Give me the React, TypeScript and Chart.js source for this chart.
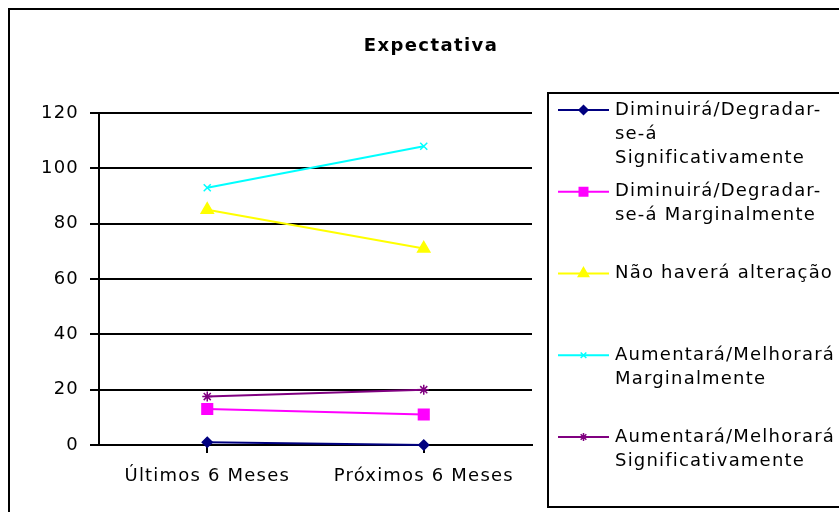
import React, { useEffect, useRef } from 'react';
import { Chart, registerables } from 'chart.js';
import { drawPoint } from 'chart.js/helpers';

Chart.register(...registerables);

const chartTitle = 'Expectativa';
const categories = ['Últimos 6 Meses', 'Próximos 6 Meses'];
const seriesNames = [
  'Diminuirá/Degradar-se-á Significativamente',
  'Diminuirá/Degradar-se-á Marginalmente',
  'Não haverá alteração',
  'Aumentará/Melhorará Marginalmente',
  'Aumentará/Melhorará Significativamente',
];
const legendLines = [
  ['Diminuirá/Degradar-', 'se-á', 'Significativamente'],
  ['Diminuirá/Degradar-', 'se-á Marginalmente'],
  ['Não haverá alteração'],
  ['Aumentará/Melhorará', 'Marginalmente'],
  ['Aumentará/Melhorará', 'Significativamente'],
];
const diminuiraSignificativamente = [1, 0];
const diminuiraMarginalmente = [13, 11];
const naoHaveraAlteracao = [85, 71];
const aumentaraMarginalmente = [93, 108];
const aumentaraSignificativamente = [17.5, 20];
const yMin = 0;
const yMax = 120;
const yStep = 20;

const seriesValues = [
  diminuiraSignificativamente,
  diminuiraMarginalmente,
  naoHaveraAlteracao,
  aumentaraMarginalmente,
  aumentaraSignificativamente,
];
const seriesColors = ['#000080', '#FF00FF', '#FFFF00', '#00FFFF', '#800080'];
const pointStyles = ['rectRot', 'rect', 'triangle', 'crossRot', 'star'];
const pointRadii = [5, 7.5, 7, 5, 5];
const legendRadii = [4.5, 6, 6, 4, 4];

const FONT_FAMILY = '"DejaVu Sans", Verdana, sans-serif';
const SPACING = '1.2px';

const decorPlugin = {
  id: 'decor',
  beforeDraw(chart: any) {
    chart.ctx.letterSpacing = SPACING;
  },
  afterDraw(chart: any) {
    const ctx = chart.ctx as CanvasRenderingContext2D;
    ctx.save();
    ctx.strokeStyle = '#000';
    ctx.lineWidth = 2;
    ctx.strokeRect(9, 9, 1000, 1000);
    ctx.strokeRect(548, 93, 400, 414);

    ctx.fillStyle = '#000';
    (ctx as any).letterSpacing = '1.4px';
    ctx.font = `bold 18px ${FONT_FAMILY}`;
    ctx.textAlign = 'center';
    ctx.textBaseline = 'alphabetic';
    ctx.fillText(chartTitle, 431, 51);

    (ctx as any).letterSpacing = SPACING;
    ctx.font = `18px ${FONT_FAMILY}`;
    ctx.textAlign = 'left';
    ctx.textBaseline = 'middle';
    legendLines.forEach((lines, i) => {
      const y0 = 110 + i * 81.75;
      ctx.strokeStyle = seriesColors[i];
      ctx.fillStyle = seriesColors[i];
      ctx.lineWidth = 2;
      ctx.beginPath();
      ctx.moveTo(558, y0);
      ctx.lineTo(609, y0);
      ctx.stroke();
      ctx.lineWidth = 1.5;
      drawPoint(ctx, { pointStyle: pointStyles[i] as any, radius: legendRadii[i], rotation: 0, borderWidth: 1.5 } as any, 583.5, y0);
      ctx.fillStyle = '#000';
      lines.forEach((t, j) => ctx.fillText(t, 615, y0 + j * 24));
    });
    ctx.restore();
  },
};

export default function App() {
  const ref = useRef<HTMLCanvasElement>(null);
  useEffect(() => {
    const font = { family: FONT_FAMILY, size: 18 };
    const chart = new Chart(ref.current as HTMLCanvasElement, {
      type: 'line',
      data: {
        labels: categories,
        datasets: seriesNames.map((name, i) => ({
          label: name,
          data: seriesValues[i],
          borderColor: seriesColors[i],
          backgroundColor: seriesColors[i],
          borderWidth: 2,
          pointStyle: pointStyles[i] as any,
          pointRadius: pointRadii[i],
          pointBackgroundColor: seriesColors[i],
          pointBorderColor: seriesColors[i],
          pointBorderWidth: 1.5,
          tension: 0,
          fill: false,
          clip: false as any,
        })),
      },
      options: {
        responsive: false,
        animation: false,
        layout: { padding: { top: 113, right: 307, bottom: 0, left: 0 } },
        plugins: {
          legend: { display: false },
          title: { display: false },
          tooltip: { enabled: false },
        },
        scales: {
          x: {
            type: 'category',
            offset: true,
            grid: { display: true, drawOnChartArea: false, drawTicks: true, tickLength: 8, color: '#000', lineWidth: 2 },
            border: { display: true, color: '#000', width: 2 },
            ticks: { color: '#000', font, padding: 13, maxRotation: 0, autoSkip: false },
            afterFit(scale: any) {
              scale.height = 67;
            },
          },
          y: {
            min: yMin,
            max: yMax,
            ticks: { stepSize: yStep, color: '#000', font, padding: 11 },
            grid: { color: '#000', lineWidth: 2, tickLength: 9 },
            border: { display: true, color: '#000', width: 2 },
            afterFit(scale: any) {
              scale.width = 99;
            },
          },
        },
      },
      plugins: [decorPlugin],
    });
    return () => chart.destroy();
  }, []);
  return (
    <div style={{ position: 'absolute', left: 0, top: 0, width: 839, height: 512, background: '#fff', overflow: 'hidden' }}>
      <canvas ref={ref} width={839} height={512} style={{ display: 'block', width: 839, height: 512 }} />
    </div>
  );
}
